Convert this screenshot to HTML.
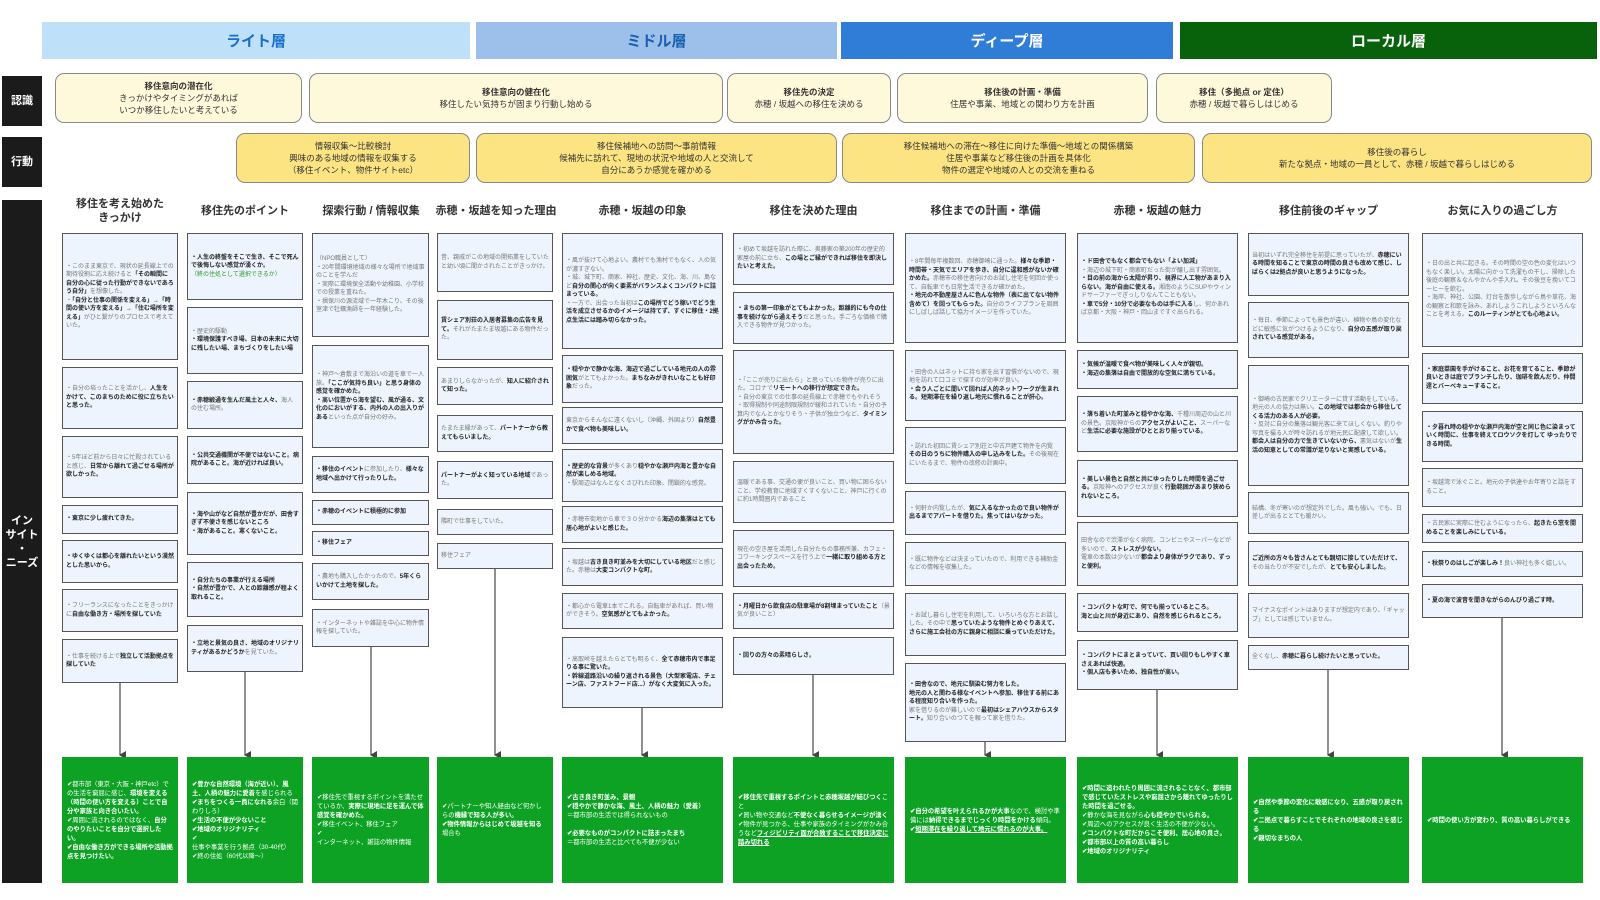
<!DOCTYPE html>
<html><head><meta charset="utf-8">
<style>
*{margin:0;padding:0;box-sizing:border-box}
body{width:1600px;height:900px;background:#fff;position:relative;overflow:hidden;font-family:"Liberation Sans","Noto Sans CJK JP",sans-serif}
.a{position:absolute}
.hd{position:absolute;top:22px;height:37px;display:flex;align-items:center;justify-content:center;font-size:15px;font-weight:bold}
.sb{position:absolute;left:2px;width:40px;background:#1b1b1b;color:#fff;font-size:11px;font-weight:bold;display:flex;align-items:center;justify-content:center;text-align:center;line-height:14px}
.r{position:absolute;top:73px;height:50px;background:#fff9dc;border:1.5px solid #888;border-radius:9px;font-size:8.5px;line-height:12px;color:#333;display:flex;align-items:center;justify-content:center;text-align:center}
.ac{position:absolute;top:133px;height:50px;background:#fde482;border:1.5px solid #888;border-radius:9px;font-size:8.5px;line-height:12px;color:#333;display:flex;align-items:center;justify-content:center;text-align:center}
.t{position:absolute;top:200px;height:22px;font-size:11px;font-weight:bold;color:#333;display:flex;align-items:center;justify-content:center;text-align:center;line-height:14px}
.n{position:absolute;background:#eef4fd;border:1.5px solid #555;font-size:6px;line-height:8.5px;color:#777;padding:2px 3px;display:flex;align-items:center;overflow:hidden}
.n b{color:#222}
.g{position:absolute;top:757px;height:126px;background:#0ea224;color:#fff;font-size:6.3px;line-height:9px;padding:3px 5px;display:flex;align-items:center;overflow:hidden}
.g b{font-weight:bold}
</style></head><body>

<div class="hd" style="left:42px;width:428px;background:#bfe0f9;color:#1a6fc9">ライト層</div>
<div class="hd" style="left:476px;width:361px;background:#9cc0ea;color:#1a5fb0">ミドル層</div>
<div class="hd" style="left:841px;width:332px;background:#2f7dd6;color:#fff">ディープ層</div>
<div class="hd" style="left:1180px;width:417px;background:#08620b;color:#fff">ローカル層</div>

<div class="sb" style="top:76px;height:50px">認識</div>
<div class="sb" style="top:137px;height:50px">行動</div>
<div class="sb" style="top:200px;height:683px">イン<br>サイト<br>・<br>ニーズ</div>

<div class="r" style="left:55px;width:247px"><div><b>移住意向の潜在化</b><br>きっかけやタイミングがあれば<br>いつか移住したいと考えている</div></div>
<div class="r" style="left:309px;width:414px"><div><b>移住意向の健在化</b><br>移住したい気持ちが固まり行動し始める</div></div>
<div class="r" style="left:727px;width:164px"><div><b>移住先の決定</b><br>赤穂 / 坂越への移住を決める</div></div>
<div class="r" style="left:897px;width:251px"><div><b>移住後の計画・準備</b><br>住居や事業、地域との関わり方を計画</div></div>
<div class="r" style="left:1156px;width:176px"><div><b>移住（多拠点 or 定住）</b><br>赤穂 / 坂越で暮らしはじめる</div></div>

<div class="ac" style="left:236px;width:234px"><div>情報収集〜比較検討<br>興味のある地域の情報を収集する<br>（移住イベント、物件サイトetc）</div></div>
<div class="ac" style="left:476px;width:361px"><div>移住候補地への訪問〜事前情報<br>候補先に訪れて、現地の状況や地域の人と交流して<br>自分にあうか感覚を確かめる</div></div>
<div class="ac" style="left:842px;width:353px"><div>移住候補地への滞在〜移住に向けた準備〜地域との関係構築<br>住居や事業など移住後の計画を具体化<br>物件の選定や地域の人との交流を重ねる</div></div>
<div class="ac" style="left:1202px;width:390px"><div>移住後の暮らし<br>新たな拠点・地域の一員として、赤穂 / 坂越で暮らしはじめる</div></div>

<div class="t" style="left:62px;width:116px;top:196px;height:30px">移住を考え始めた<br>きっかけ</div>
<div class="t" style="left:182px;width:126px">移住先のポイント</div>
<div class="t" style="left:308px;width:126px">探索行動 / 情報収集</div>
<div class="t" style="left:430px;width:132px">赤穂・坂越を知った理由</div>
<div class="t" style="left:562px;width:161px">赤穂・坂越の印象</div>
<div class="t" style="left:733px;width:161px">移住を決めた理由</div>
<div class="t" style="left:905px;width:161px">移住までの計画・準備</div>
<div class="t" style="left:1077px;width:161px">赤穂・坂越の魅力</div>
<div class="t" style="left:1248px;width:161px">移住前後のギャップ</div>
<div class="t" style="left:1422px;width:161px">お気に入りの過ごし方</div>

<!-- col1 -->
<div class="n" style="left:62px;width:116px;top:233px;height:127px"><div>・このまま東京で、現状の延長線上での期待役割に応え続けると<b>「その瞬間に自分の心に従った行動ができないであろう自分」</b>を想像した。<br>・<b>「自分と仕事の関係を変える」→「時間の使い方を変える」→「住む場所を変える」</b>がひと繋がりのプロセスで考えていた。</div></div>
<div class="n" style="left:62px;width:116px;top:367px;height:62px"><div>・自分の培ったことを活かし、<b>人生をかけて、このまちのために役に立ちたいと思った。</b></div></div>
<div class="n" style="left:62px;width:116px;top:436px;height:62px"><div>・5年ほど前から日々に忙殺されていると感じ、<b>日常から離れて過ごせる場所が欲しかった。</b></div></div>
<div class="n" style="left:62px;width:116px;top:505px;height:29px"><div><b>・東京に少し疲れてきた。</b></div></div>
<div class="n" style="left:62px;width:116px;top:540px;height:43px"><div><b>・ゆくゆくは都心を離れたいという漠然とした思いから。</b></div></div>
<div class="n" style="left:62px;width:116px;top:589px;height:43px"><div>・フリーランスになったことをきっかけに<b>自由な働き方・場所を探していた</b></div></div>
<div class="n" style="left:62px;width:116px;top:639px;height:44px"><div>・仕事を続ける上で<b>独立して活動拠点を探していた</b></div></div>

<!-- col2 -->
<div class="n" style="left:187px;width:116px;top:233px;height:67px"><div><b>・人生の終盤をそこで生き、そこで死んで後悔しない感覚が湧くか。</b><br><span style="color:#2a9a2a">（終の住処として選択できるか）</span></div></div>
<div class="n" style="left:187px;width:116px;top:307px;height:67px"><div>・歴史的駆動<br><b>・環境保護すべき場、日本の未来に大切に残したい場、まちづくりをしたい場</b></div></div>
<div class="n" style="left:187px;width:116px;top:381px;height:48px"><div><b>・赤穂緞通を生んだ風土と人々、</b>海人の住む場所。</div></div>
<div class="n" style="left:187px;width:116px;top:436px;height:48px"><div><b>・公共交通機関が不便ではないこと。病院があること。海が近ければ良い。</b></div></div>
<div class="n" style="left:187px;width:116px;top:492px;height:63px"><div><b>・海や山がなど自然が豊かだが、田舎すぎず不便さを感じないところ<br>・海があること。寒くないこと。</b></div></div>
<div class="n" style="left:187px;width:116px;top:562px;height:55px"><div><b>・自分たちの事業が行える場所<br>・自然が豊かで、人との距離感が程よく取れること。</b></div></div>
<div class="n" style="left:187px;width:116px;top:625px;height:47px"><div><b>・立地と景気の良さ、地域のオリジナリティがあるかどうか</b>を見ていた。</div></div>

<!-- col3 -->
<div class="n" style="left:312px;width:117px;top:233px;height:104px"><div>（NPO職員として）<br>・20年間環境地域の様々な場所で地域事のことを学んだ<br>・実際に環境保全活動や幼稚園、小学校での授業を重ねた。<br>・揖保川の源流域で一年木こり、その後室津で牡蠣漁師を一年経験した。</div></div>
<div class="n" style="left:312px;width:117px;top:345px;height:103px"><div>・神戸〜倉敷まで海沿いの道を車で一人旅。<b>「ここが気持ち良い」と思う身体の感覚を確かめた。<br>・高い位置から海を望む、風が通る、文化のにおいがする、内外の人の出入りがある</b>といった点が自分の好み。</div></div>
<div class="n" style="left:312px;width:117px;top:456px;height:37px"><div><b>・移住のイベント</b>に参加したり、<b>様々な地域へ出かけて行ったりした。</b></div></div>
<div class="n" style="left:312px;width:117px;top:500px;height:25px"><div><b>・赤穂のイベントに積極的に参加</b></div></div>
<div class="n" style="left:312px;width:117px;top:531px;height:25px"><div><b>・移住フェア</b></div></div>
<div class="n" style="left:312px;width:117px;top:563px;height:37px"><div>・農地も購入したかったので、<b>5年くらいかけて土地を探した。</b></div></div>
<div class="n" style="left:312px;width:117px;top:609px;height:38px"><div>・インターネットや雑誌を中心に物件情報を探していた。</div></div>

<!-- col4 -->
<div class="n" style="left:437px;width:116px;top:233px;height:59px"><div>昔、親戚がこの地域の開拓業をしていたと幼い頃に聞かされたことがきっかけ。</div></div>
<div class="n" style="left:437px;width:116px;top:300px;height:60px"><div><b>賃シェア別荘の入居者募集の広告を見て。</b>それがたまたま坂越にある物件だった。</div></div>
<div class="n" style="left:437px;width:116px;top:367px;height:38px"><div>あまりしらなかったが、<b>知人に紹介されて知った。</b></div></div>
<div class="n" style="left:437px;width:116px;top:415px;height:37px"><div>たまたま縁があって、<b>パートナーから教えてもらいました。</b></div></div>
<div class="n" style="left:437px;width:116px;top:461px;height:38px"><div><b>パートナーがよく知っている地域</b>であった。</div></div>
<div class="n" style="left:437px;width:116px;top:509px;height:26px"><div>隣町で仕事をしていた。</div></div>
<div class="n" style="left:437px;width:116px;top:543px;height:26px"><div>移住フェア</div></div>

<!-- col5 -->
<div class="n" style="left:562px;width:161px;top:233px;height:116px"><div>・風が抜けて心地よい。農村でも漁村でもなく、人の気が濃すぎない。<br>・城、城下町、商家、神社、歴史、文化、海、川、島など<b>自分の関心が向く要素がバランスよくコンパクトに詰まっている。</b><br>・一方で、出会った当初は<b>この場所でどう稼いでどう生活を成立させるかのイメージは持てず、すぐに移住・2拠点生活には踏み切らなかった。</b></div></div>
<div class="n" style="left:562px;width:161px;top:355px;height:48px"><div><b>・穏やかで静かな海、海辺で過ごしている地元の人の雰囲気</b>がとてもよかった。<b>まちなみがきれいなことも好印象</b>だった。</div></div>
<div class="n" style="left:562px;width:161px;top:407px;height:37px"><div>東京からそんなに遠くないし（沖縄、外国より）<b>自然豊かで食べ物も美味しい。</b></div></div>
<div class="n" style="left:562px;width:161px;top:449px;height:53px"><div><b>・歴史的な背景</b>が多くあり<b>穏やかな瀬戸内海と豊かな自然が楽しめる地域。</b><br>・駅周辺はなんとなくさびれた印象、閉鎖的な感覚。</div></div>
<div class="n" style="left:562px;width:161px;top:506px;height:37px"><div>・赤穂市街地から車で３０分かかる<b>海辺の集落はとても居心地がよいと感じた。</b></div></div>
<div class="n" style="left:562px;width:161px;top:548px;height:38px"><div>・坂越は<b>古き良き町並みを大切にしている地区</b>だと感じた。赤穂は<b>大変コンパクトな町。</b></div></div>
<div class="n" style="left:562px;width:161px;top:593px;height:36px"><div>・都心から電車1本でこれる。自転車があれば、買い物ができそう。<b>空気感がとてもよかった。</b></div></div>
<div class="n" style="left:562px;width:161px;top:637px;height:71px"><div>・高取峠を越えたらとても明るく、<b>全て赤穂市内で事足りる事に驚いた。<br>・幹線道路沿いの繰り返される景色（大型家電店、チェーン店、ファストフード店...）がなく大変気に入った。</b></div></div>

<!-- col6 -->
<div class="n" style="left:733px;width:161px;top:233px;height:52px"><div>・初めて坂越を訪れた際に、奥藤家の築200年の歴史的家屋の前に立ち、<b>この場とご縁ができれば移住を即決したいと考えた。</b></div></div>
<div class="n" style="left:733px;width:161px;top:292px;height:52px"><div><b>・まちの第一印象がとてもよかった。距離的にも今の仕事を続けながら通えそう</b>だと思った。手ごろな価格で購入できる物件が見つかった。</div></div>
<div class="n" style="left:733px;width:161px;top:350px;height:104px"><div>・「ここが売りに出たら」と思っていた物件が売りに出た。コロナで<b>リモートへの移行が想定できた。</b><br>・自分の東京での仕事の延長線上で赤穂でもやれそう<br>・取得規制や同途制限規制が緩和されていた・自分の予算内でなんとかなりそう・子供が独立つなど、<b>タイミングがかみ合った。</b></div></div>
<div class="n" style="left:733px;width:161px;top:461px;height:62px"><div>温暖である事、交通の便が良いこと、買い物に困らないこと、学校教育に地域すくすくないこと、神戸に行くのに約1時間圏内であること</div></div>
<div class="n" style="left:733px;width:161px;top:530px;height:57px"><div>現在の空き屋を活用した自分たちの事務所兼、カフェ・コワーキングスペースを行う上で<b>一緒に取り組める方と出会ったため。</b></div></div>
<div class="n" style="left:733px;width:161px;top:593px;height:36px"><div><b>・月曜日から飲食店の駐車場が8割埋まっていたこと</b>（景気が良いこと）</div></div>
<div class="n" style="left:733px;width:161px;top:637px;height:38px"><div><b>・回りの方々の素晴らしさ。</b></div></div>

<!-- col7 -->
<div class="n" style="left:905px;width:161px;top:233px;height:110px"><div>・8年間毎年複数回、赤穂御崎に通った。<b>様々な季節・時間帯・天気でエリアを歩き、自分に違和感がないか確かめた。</b>赤穂市の移住者向けのお試し住宅を何回か使って、自転車でも日常生活できるか確かめた。<br><b>・地元の不動産屋さんに色んな物件（表に出てない物件含めて）を回ってもらった。</b>自分のライフプランを周囲にしばしば話して協力イメージを作っていた。</div></div>
<div class="n" style="left:905px;width:161px;top:350px;height:71px"><div>・田舎の人はネットに持ち家を出す習慣がないので、現地を訪れて口コミで探すのが効率が良い。<br><b>・会う人ごとに聞いて回れば人的ネットワークが生まれる。短期滞在を繰り返し地元に慣れることが肝心。</b></div></div>
<div class="n" style="left:905px;width:161px;top:427px;height:57px"><div>・訪れた初回に賃シェア別荘と中古戸建て物件を内覧<br><b>その日のうちに物件購入の申し込みをした。</b>その後現在にいたるまで、物件の改修の計画中。</div></div>
<div class="n" style="left:905px;width:161px;top:491px;height:44px"><div>・何軒か内覧したが、<b>気に入るなかったので良い物件が出るまでアパートを借りた。焦ってはいなかった。</b></div></div>
<div class="n" style="left:905px;width:161px;top:542px;height:44px"><div>・既に物件などは決まっていたので、利用できる補助金などの情報を収集した。</div></div>
<div class="n" style="left:905px;width:161px;top:593px;height:63px"><div>・お試し暮らし住宅を利用して、いろいろな方とお話しした。その中で<b>思っていたような物件とめぐりあえて、さらに施工会社の方に親身に相談に乗っていただけた。</b></div></div>
<div class="n" style="left:905px;width:161px;top:663px;height:79px"><div><b>・田舎なので、地元に馴染む努力をした。<br>地元の人と関わる様なイベントへ参加、移住する前にある程度知り合いを作った。</b><br>家を借りるのが難しいので<b>最初はシェアハウスからスタート。</b>知り合いのつてを頼って家を借りた。</div></div>

<!-- col8 -->
<div class="n" style="left:1077px;width:161px;top:233px;height:110px"><div><b>・ド田舎でもなく都会でもない「よい加減」</b><br>・海辺の城下町・商家町だった街が醸し出す雰囲気。<br><b>・目の前の海から太陽が昇り、視界に人工物があまり入らない。海が自由に使える。</b>湘南のようにSUPやウィンドサーファーでぎっしりなんてこともない。<br><b>・車で5分・10分で必要なものは手に入る</b>し、何かあれば京都・大阪・神戸・岡山まですぐ出られる。</div></div>
<div class="n" style="left:1077px;width:161px;top:350px;height:39px"><div><b>・気候が温暖で食べ物が美味しく人々が親切。<br>・海辺の集落は自由で開放的な空気に満ちている。</b></div></div>
<div class="n" style="left:1077px;width:161px;top:396px;height:56px"><div><b>・落ち着いた町並みと穏やかな海、</b>千種川周辺の山と川の景色。京阪神からの<b>アクセスがよいこと、</b>スーパーなど<b>生活に必要な施設がひととおり揃っている。</b></div></div>
<div class="n" style="left:1077px;width:161px;top:460px;height:57px"><div><b>・美しい景色と自然と共にゆったりした時間を過ごせる。</b>京阪神へのアクセスが良く<b>行動範囲があまり狭められないところ。</b></div></div>
<div class="n" style="left:1077px;width:161px;top:522px;height:64px"><div>田舎なので渋滞がなく病院、コンビニやスーパーなどが多いので、<b>ストレスが少ない。</b><br>電車の本数は少ないが<b>都会より身体がラクであり、ずっと便利。</b></div></div>
<div class="n" style="left:1077px;width:161px;top:593px;height:39px"><div><b>・コンパクトな町で、何でも揃っているところ。<br>海と山と川が身近にあり、自然を感じられるところ。</b></div></div>
<div class="n" style="left:1077px;width:161px;top:640px;height:50px"><div><b>・コンパクトにまとまっていて、買い回りもしやすく車さえあれば快適。<br>・個人店も多いため、独自性が高い。</b></div></div>

<!-- col9 -->
<div class="n" style="left:1248px;width:161px;top:233px;height:63px"><div>当初はいずれ完全移住を前提に思っていたが、<b>赤穂にいる時間を知ることで東京の時間の良さも改めて感じ、しばらくは2拠点が良いと思うようになった。</b></div></div>
<div class="n" style="left:1248px;width:161px;top:302px;height:56px"><div>・毎日、季節によっても景色が違い、植物や鳥の変化などに敏感に気がつけるようになり、<b>自分の五感が取り戻されている感覚がある。</b></div></div>
<div class="n" style="left:1248px;width:161px;top:365px;height:121px"><div>・御崎の古民家でクリエーターに貸す活動をしている。地元の人の協力は無い。<b>この地域では都会から移住してくる活力のある人が必要。</b><br>・反対に自分の集落は観光客に来てほしくない。釣りや写真を撮る人が時々訪れるが地元民に配慮して欲しい。<b>都会人は自分の力で生きていないから、</b>悪気はないが<b>生活の知恵としての常識が足りないと実感している。</b></div></div>
<div class="n" style="left:1248px;width:161px;top:492px;height:42px"><div>結構、冬が寒いのが想定外でした。風も強い。でも、日差しが出るととても暖かい。</div></div>
<div class="n" style="left:1248px;width:161px;top:541px;height:45px"><div><b>ご近所の方々も皆さんとても親切に接していただけて、</b>その当たりが不安でしたが、<b>とても安心しました。</b></div></div>
<div class="n" style="left:1248px;width:161px;top:593px;height:45px"><div>マイナスなポイントはありますが想定内であり、「ギャップ」としては感じていません。</div></div>
<div class="n" style="left:1248px;width:161px;top:645px;height:25px"><div>全くなし、<b>赤穂に暮らし続けたいと思っていた。</b></div></div>

<!-- col10 -->
<div class="n" style="left:1422px;width:161px;top:233px;height:114px"><div>・日の出と共に起きる。その時間の空の色の変化はいつもなく楽しい。太陽に向かって洗濯もの干し、掃除した後庭の観察＆なんやかんや手入れ。その後豆を挽いてコーヒーを飲む。<br>・海岸、神社、公園、灯台を散歩しながら鳥や草花、海の観察と和歌を詠み、あれしようこれしようといろんなことを考える。<b>このルーティンがとても心地よい。</b></div></div>
<div class="n" style="left:1422px;width:161px;top:353px;height:51px"><div><b>・家庭菜園を手がけること、お花を育てること、季節が良いときは庭でブランチしたり、珈琲を飲んだり、仲間達とバーベキューすること。</b></div></div>
<div class="n" style="left:1422px;width:161px;top:411px;height:51px"><div><b>・夕暮れ時の穏やかな瀬戸内海が空と同じ色に染まっていく時間に、仕事を終えてロウソクを灯して ゆったりできる時間。</b></div></div>
<div class="n" style="left:1422px;width:161px;top:468px;height:39px"><div>・坂越湾で泳ぐこと。地元の子供達やお年寄りと話をすること。</div></div>
<div class="n" style="left:1422px;width:161px;top:514px;height:29px"><div>・古民家に実際に住むようになったら、<b>起きたら窓を開めることを楽しみにしている。</b></div></div>
<div class="n" style="left:1422px;width:161px;top:551px;height:26px"><div><b>・秋祭りのはしごが楽しみ！</b>良い神社も多く嬉しい。</div></div>
<div class="n" style="left:1422px;width:161px;top:584px;height:34px"><div><b>・夏の海で波音を聞きながらのんびり過ごす時。</b></div></div>

<!-- arrows -->
<svg class="a" style="left:0;top:0" width="1600" height="900">
<defs><marker id="ar" markerWidth="8" markerHeight="8" refX="4" refY="7" orient="auto" markerUnits="userSpaceOnUse"><path d="M0,1 L8,1 L4,8 Z" fill="#444"/></marker></defs>
<g stroke="#555" stroke-width="1.3" fill="none">
<line x1="120" y1="683" x2="120" y2="755" marker-end="url(#ar)"/>
<line x1="245" y1="672" x2="245" y2="755" marker-end="url(#ar)"/>
<line x1="371" y1="647" x2="371" y2="755" marker-end="url(#ar)"/>
<line x1="495" y1="569" x2="495" y2="755" marker-end="url(#ar)"/>
<line x1="642" y1="708" x2="642" y2="755" marker-end="url(#ar)"/>
<line x1="813" y1="675" x2="813" y2="755" marker-end="url(#ar)"/>
<line x1="985" y1="742" x2="985" y2="755" marker-end="url(#ar)"/>
<line x1="1157" y1="690" x2="1157" y2="755" marker-end="url(#ar)"/>
<line x1="1328" y1="670" x2="1328" y2="755" marker-end="url(#ar)"/>
<line x1="1502" y1="618" x2="1502" y2="755" marker-end="url(#ar)"/>
</g></svg>

<!-- green -->
<div class="g" style="left:62px;width:116px"><div>✔都市部（東京・大阪・神戸etc）での生活を窮屈に感じ、<b>環境を変える（時間の使い方を変える）ことで自分や家族と向き合いたい。</b><br>✔周囲に流されるのではなく、<b>自分のやりたいことを自分で選択したい。</b><br><b>✔自由な働き方ができる場所や活動拠点を見つけたい。</b></div></div>
<div class="g" style="left:187px;width:116px"><div><b>✔豊かな自然環境（海が近い）、風土、人柄の魅力に愛着</b>を感じられる<br><b>✔まちをつくる一員になれる</b>余白（関わりしろ）<br><b>✔生活の不便が少ないこと<br>✔地域のオリジナリティ</b><br>✔<br>仕事や事業を行う拠点（30-40代）<br>✔終の住処（60代以降〜）</div></div>
<div class="g" style="left:312px;width:117px"><div>✔移住先で重視するポイントを満たせているか、<b>実際に現地に足を運んで体感覚を確かめた。</b><br>✔移住イベント、移住フェア<br>✔<br>インターネット、雑誌の物件情報</div></div>
<div class="g" style="left:437px;width:116px"><div>✔パートナーや知人経由など何かしらの<b>機縁で知る人が多い。</b><br><b>✔物件情報からはじめて坂越を知る</b>場合も</div></div>
<div class="g" style="left:562px;width:161px"><div><b>✔古き良き町並み、景観<br>✔穏やかで静かな海、風土、人柄の魅力（愛着）</b><br>＝都市部の生活では得られないもの<br><br><b>✔必要なものがコンパクトに詰まったまち</b><br>＝都市部の生活と比べても不便が少ない</div></div>
<div class="g" style="left:733px;width:161px"><div><b>✔移住先で重視するポイントと赤穂坂越が結びつく</b>こと<br>✔買い物や交通など<b>不便なく暮らせるイメージが湧く</b><br>✔物件が見つかる、仕事や家族のタイミングがかみ合うなど<b><u>フィジビリティ面が合致することで移住決定に踏み切れる</u></b></div></div>
<div class="g" style="left:905px;width:161px"><div><b>✔自分の希望を叶えられるかが大事</b>なので、検討や準備には<b>納得できるまでじっくり時間をかける</b>傾向。<br><b>✔<u>短期滞在を繰り返して地元に慣れるのが大事。</u></b></div></div>
<div class="g" style="left:1077px;width:161px"><div><b>✔時間に追われたり周囲に流されることなく、都市部で感じていたストレスや窮屈さから離れてゆったりした時間を過ごせる。</b><br>✔静かな海を見ながら<b>心も穏やかでいられる。</b><br>✔周辺へのアクセスが良く生活の不便が少ない。<br><b>✔コンパクトな町だからこそ便利、居心地の良さ。<br>✔都市部以上の質の高い暮らし<br>✔地域のオリジナリティ</b></div></div>
<div class="g" style="left:1248px;width:161px"><div><b>✔自然や季節の変化に敏感になり、五感が取り戻される<br>✔二拠点で暮らすことでそれぞれの地域の良さを感じる<br>✔親切なまちの人</b></div></div>
<div class="g" style="left:1422px;width:161px"><div><b>✔時間の使い方が変わり、質の高い暮らしができる</b></div></div>

</body></html>
